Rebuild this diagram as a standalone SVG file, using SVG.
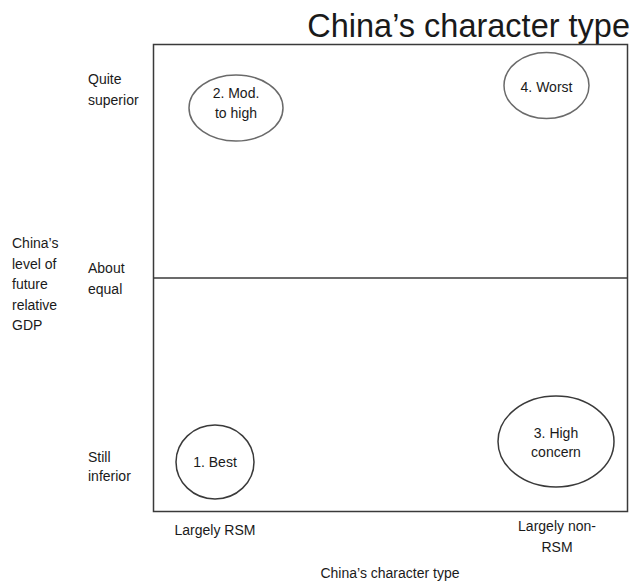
<svg xmlns="http://www.w3.org/2000/svg" width="635" height="586" viewBox="0 0 635 586">
  <style>
    text { font-family: "Liberation Sans", Arial, sans-serif; fill: #1a1a1a; font-size: 14px; }
    .title { font-size: 32.5px; }
    .mid { text-anchor: middle; }
    .frame { fill: none; stroke: #3a3a3a; stroke-width: 1.5; }
    .oval { fill: none; stroke: #3a3a3a; stroke-width: 1.5; }
    .oval.light { stroke: #6a6a6a; }
  </style>
  <rect width="635" height="586" fill="#ffffff"/>

  <!-- chart title -->
  <text class="title" x="630" y="37" text-anchor="end">China’s character type</text>

  <!-- quadrant frame and divider -->
  <g id="frame">
    <rect class="frame" x="153.5" y="44.5" width="474" height="467"/>
    <line class="frame" x1="153.5" y1="278" x2="627.5" y2="278"/>
  </g>

  <!-- vertical axis labels -->
  <g id="y-axis">
    <text x="12" y="248">China’s</text>
    <text x="12" y="268.5">level of</text>
    <text x="12" y="289">future</text>
    <text x="12" y="309.5">relative</text>
    <text x="12" y="330">GDP</text>
    <text x="88" y="84">Quite</text>
    <text x="88" y="105">superior</text>
    <text x="88" y="273">About</text>
    <text x="88" y="294">equal</text>
    <text x="88" y="462">Still</text>
    <text x="88" y="481">inferior</text>
  </g>

  <!-- horizontal axis labels -->
  <g id="x-axis">
    <text class="mid" x="215" y="535">Largely RSM</text>
    <text class="mid" x="557" y="531">Largely non-</text>
    <text class="mid" x="557" y="552">RSM</text>
    <text class="mid" x="390" y="578">China’s character type</text>
  </g>

  <!-- quadrant outcomes -->
  <g id="q2-mod-to-high">
    <ellipse class="oval light" cx="236" cy="108" rx="47" ry="33"/>
    <text class="mid" x="236" y="98">2. Mod.</text>
    <text class="mid" x="236" y="118">to high</text>
  </g>
  <g id="q4-worst">
    <ellipse class="oval light" cx="546.5" cy="85.5" rx="42.5" ry="33"/>
    <text class="mid" x="546.5" y="92">4. Worst</text>
  </g>
  <g id="q1-best">
    <ellipse class="oval" cx="215" cy="462" rx="39" ry="37"/>
    <text class="mid" x="215" y="467">1. Best</text>
  </g>
  <g id="q3-high-concern">
    <ellipse class="oval" cx="556" cy="441.5" rx="58" ry="45.5"/>
    <text class="mid" x="556" y="438">3. High</text>
    <text class="mid" x="556" y="457">concern</text>
  </g>
</svg>
